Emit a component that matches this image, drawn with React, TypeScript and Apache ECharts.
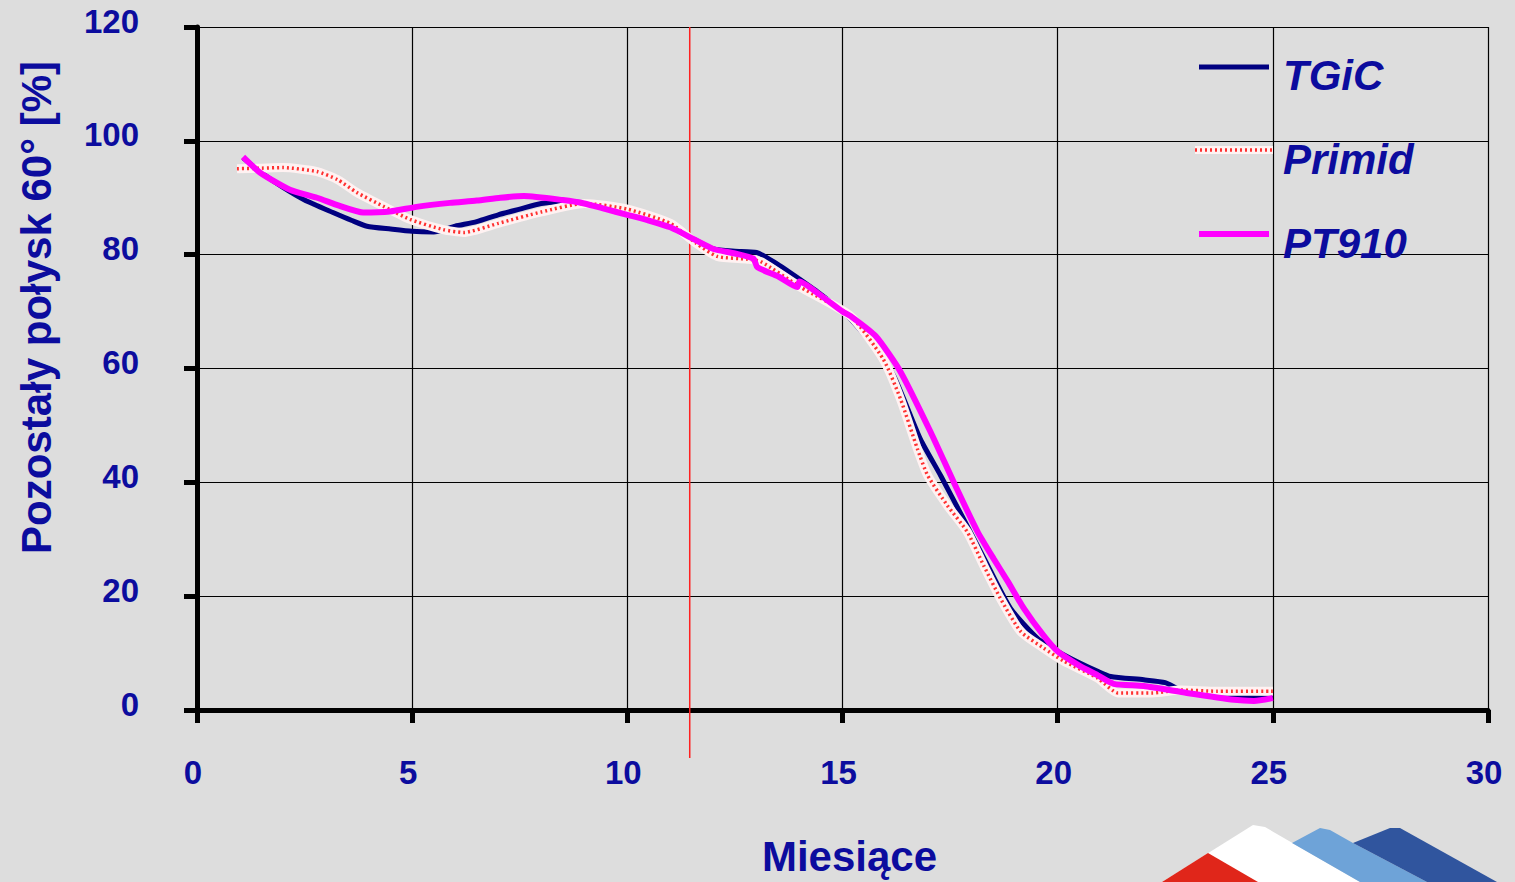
import React, { useEffect, useRef } from "react";
import * as echarts from "echarts";

// ---- data ----
const tgicX = [1.07, 1.5, 2.0, 2.5, 3.16, 3.6, 3.95, 4.5, 5.0, 5.5, 6.0, 6.5, 7.0, 7.5, 8.0, 8.5, 9.0, 9.5, 10.0, 10.5, 11.0, 11.6, 12.0, 12.5, 13.0, 13.56, 14.0, 14.5, 15.0, 15.19, 15.65, 16.19, 16.81, 17.28, 17.81, 18.3, 18.9, 19.53, 20.0, 20.5, 20.93, 21.23, 22.0, 22.5, 22.86, 23.5, 24.0, 24.5, 25.0];
const tgicY = [97.0, 94.4, 91.8, 89.6, 87.4, 86.0, 85.0, 84.5, 84.1, 84.0, 85.0, 85.8, 87.0, 88.0, 89.0, 89.3, 89.2, 88.5, 87.5, 86.3, 85.0, 82.5, 81.0, 80.6, 80.4, 78.0, 75.7, 73.0, 70.0, 68.7, 64.6, 58.7, 47.6, 41.2, 33.6, 26.5, 17.9, 12.6, 10.3, 8.3, 6.8, 5.9, 5.3, 4.8, 3.5, 2.9, 2.5, 2.2, 2.1];

const primidX = [0.93, 1.5, 2.0, 2.79, 3.26, 3.72, 4.33, 4.95, 5.72, 6.2, 7.0, 8.0, 9.0, 10.0, 11.0, 11.6, 12.09, 12.79, 13.1, 14.0, 15.19, 15.95, 16.35, 16.74, 16.98, 17.44, 17.9, 18.28, 18.67, 19.14, 19.67, 20.14, 20.93, 21.4, 22.2, 22.86, 23.7, 25.0];
const primidY = [95.1, 95.2, 95.3, 94.6, 93.2, 90.9, 88.5, 86.2, 84.4, 83.9, 85.5, 87.5, 89.0, 88.0, 85.5, 82.0, 79.7, 79.2, 78.8, 74.4, 69.2, 61.6, 54.6, 45.9, 41.2, 35.9, 31.3, 25.4, 19.6, 13.8, 10.9, 8.6, 5.6, 3.0, 3.0, 3.5, 3.3, 3.3];

const pt910X = [1.07, 1.47, 2.16, 2.79, 3.3, 3.86, 4.49, 5.1, 5.88, 6.5, 7.05, 7.6, 8.5, 9.0, 9.5, 10.0, 10.5, 11.0, 11.6, 12.0, 12.5, 12.93, 13.02, 13.5, 13.95, 14.0, 14.5, 15.0, 15.19, 15.77, 16.35, 17.05, 17.58, 18.14, 18.51, 18.84, 19.21, 19.67, 20.0, 20.5, 20.93, 21.3, 22.0, 23.0, 24.1, 24.56, 25.0];
const pt910Y = [97.2, 94.4, 91.4, 90.0, 88.6, 87.4, 87.6, 88.4, 89.1, 89.5, 90.0, 90.3, 89.6, 89.0, 88.0, 87.0, 86.0, 84.8, 82.5, 81.0, 80.2, 79.3, 77.8, 76.2, 74.3, 75.3, 72.8, 70.0, 69.2, 65.7, 59.4, 48.8, 40.1, 31.3, 26.6, 22.6, 17.9, 13.1, 10.3, 7.8, 6.1, 4.6, 4.2, 3.0, 1.8, 1.6, 2.1];

const seriesNames = ["TGiC", "Primid", "PT910"];
const xAxisName = "Miesiące";
const yAxisName = "Pozostały połysk 60° [%]";
const xMin = 0, xMax = 30, xStep = 5;
const yMin = 0, yMax = 120, yStep = 20;
const redLineX = 11.45;

const TEXT = "#0c0c9e";
const FONT = "'Liberation Sans', Arial, sans-serif";
const NAVY = "#000080";
const MAGENTA = "#ff00ff";
const DOT_BG = "#fff2f2";
const DOT_RED = "#ff3030";

const pairs = (xs: number[], ys: number[]) => xs.map((x, i) => [x, ys[i]]);

export default function App() {
  const ref = useRef<HTMLDivElement>(null);
  useEffect(() => {
    document.body.style.margin = "0";
    document.body.style.background = "#dddddd";
    const chart = echarts.init(ref.current!, null, { renderer: "svg" });
    chart.setOption({
      animation: false,
      backgroundColor: "#dddddd",
      grid: { left: 197, right: 27, top: 27, bottom: 170, containLabel: false },
      xAxis: {
        type: "value",
        min: xMin,
        max: xMax,
        interval: xStep,
        name: xAxisName,
        nameLocation: "middle",
        nameGap: 146,
        nameTextStyle: {
          color: TEXT, fontSize: 42, fontWeight: "bold", fontFamily: FONT,
          verticalAlign: "middle", padding: [0, 0, 0, 14],
        },
        axisLine: { show: true, onZero: false, lineStyle: { color: "#000", width: 5 } },
        axisTick: { show: true, inside: false, length: 13, lineStyle: { color: "#000", width: 5 } },
        axisLabel: {
          color: TEXT, fontSize: 33, fontWeight: "bold", fontFamily: FONT,
          margin: 46, padding: [0, 8, 0, 0],
        },
        splitLine: { show: true, lineStyle: { color: "#000", width: 1.2 } },
      },
      yAxis: {
        type: "value",
        min: yMin,
        max: yMax,
        interval: yStep,
        name: yAxisName,
        nameLocation: "middle",
        nameRotate: 90,
        nameGap: 161,
        nameTextStyle: {
          color: TEXT, fontSize: 42, fontWeight: "bold", fontFamily: FONT,
          verticalAlign: "middle", padding: [0, 0, 0, 122],
        },
        axisLine: { show: true, onZero: false, lineStyle: { color: "#000", width: 5 } },
        axisTick: { show: true, inside: false, length: 13, lineStyle: { color: "#000", width: 5 } },
        axisLabel: {
          color: TEXT, fontSize: 33, fontWeight: "bold", fontFamily: FONT,
          margin: 58, verticalAlign: "bottom", lineHeight: 12,
        },
        splitLine: { show: true, lineStyle: { color: "#000", width: 1.2 } },
      },
      series: [
        {
          name: seriesNames[0], type: "line", data: pairs(tgicX, tgicY),
          showSymbol: false, smooth: 0.2,
          lineStyle: { color: NAVY, width: 5 },
        },
        {
          name: seriesNames[1], type: "line", data: pairs(primidX, primidY),
          showSymbol: false, smooth: 0.2,
          lineStyle: { color: DOT_BG, width: 9 },
        },
        {
          name: seriesNames[1] + " ", type: "line", data: pairs(primidX, primidY),
          showSymbol: false, smooth: 0.2,
          lineStyle: { color: DOT_RED, width: 3.5, type: [2, 3] },
        },
        {
          name: seriesNames[2], type: "line", data: pairs(pt910X, pt910Y),
          showSymbol: false, smooth: 0.2,
          lineStyle: { color: MAGENTA, width: 6 },
        },
      ],
    });

    const rx = chart.convertToPixel({ xAxisIndex: 0 }, redLineX) as number;
    const ry = chart.convertToPixel({ yAxisIndex: 0 }, yMax) as number;

    const legendFont = `italic bold 42px ${FONT}`;
    chart.setOption({
      graphic: [
        {
          type: "line", z: 1, silent: true,
          shape: { x1: rx, y1: ry, x2: rx, y2: 758 },
          style: { stroke: "#ff2020", lineWidth: 1.5 },
        },
        // legend
        { type: "line", z: 10, shape: { x1: 1199, y1: 67, x2: 1269, y2: 67 }, style: { stroke: NAVY, lineWidth: 5 } },
        { type: "text", z: 10, style: { text: seriesNames[0], x: 1283, y: 75, font: legendFont, fill: TEXT, align: "left", verticalAlign: "middle" } },
        { type: "line", z: 10, shape: { x1: 1195, y1: 150, x2: 1273, y2: 150 }, style: { stroke: DOT_BG, lineWidth: 8 } },
        { type: "line", z: 11, shape: { x1: 1195, y1: 150, x2: 1273, y2: 150 }, style: { stroke: DOT_RED, lineWidth: 3.5, lineDash: [2, 3] } },
        { type: "text", z: 10, style: { text: seriesNames[1], x: 1283, y: 159, font: legendFont, fill: TEXT, align: "left", verticalAlign: "middle" } },
        { type: "line", z: 10, shape: { x1: 1199, y1: 234, x2: 1269, y2: 234 }, style: { stroke: MAGENTA, lineWidth: 6 } },
        { type: "text", z: 10, style: { text: seriesNames[2], x: 1283, y: 243, font: legendFont, fill: TEXT, align: "left", verticalAlign: "middle" } },
        // logo
        { type: "polygon", z: 10, shape: { points: [[1162, 882], [1253, 825], [1265, 827], [1360, 882]] }, style: { fill: "#ffffff" } },
        { type: "polygon", z: 11, shape: { points: [[1162, 882], [1208, 853], [1258, 882]] }, style: { fill: "#e0261a" } },
        { type: "polygon", z: 10, shape: { points: [[1292, 843], [1320, 828], [1330, 830], [1353, 843], [1427, 882], [1360, 882]] }, style: { fill: "#6ea3d8" } },
        { type: "polygon", z: 10, shape: { points: [[1353, 843], [1390, 828], [1400, 828], [1497, 882], [1427, 882]] }, style: { fill: "#30559e" } },
      ],
    });
    return () => chart.dispose();
  }, []);
  return (
    <div
      ref={ref}
      style={{ position: "fixed", left: 0, top: 0, width: "1515px", height: "882px" }}
    />
  );
}
